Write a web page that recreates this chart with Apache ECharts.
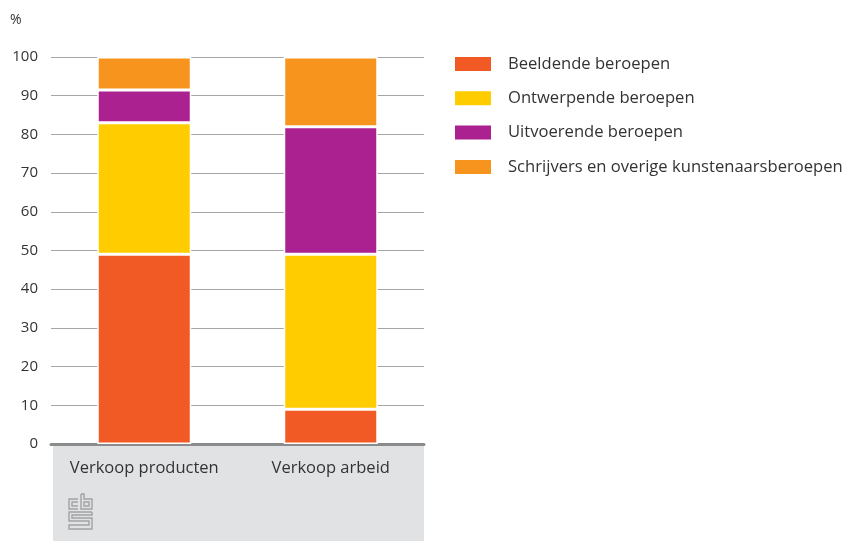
<!DOCTYPE html>
<html>
<head>
<meta charset="utf-8">
<script src="https://cdn.jsdelivr.net/npm/echarts@6/dist/echarts.min.js"></script>
<style>
  html, body { margin: 0; padding: 0; background: #fff; }
  #chart { width: 847px; height: 541px; }
</style>
</head>
<body>
<div id="chart"></div>
<script>
// Share of income (%) by type of sale, per occupational group
const categories = ['Verkoop producten', 'Verkoop arbeid'];
const seriesNames = [
  'Beeldende beroepen',
  'Ontwerpende beroepen',
  'Uitvoerende beroepen',
  'Schrijvers en overige kunstenaarsberoepen'
];
const beeldende = [49, 9];
const ontwerpende = [34, 40];
const uitvoerende = [8.5, 33];
const schrijvers = [8.5, 18];
const seriesValues = [beeldende, ontwerpende, uitvoerende, schrijvers];
const colors = ['#f15a24', '#ffcc00', '#ac2190', '#f7941d'];
const yTicks = [0, 10, 20, 30, 40, 50, 60, 70, 80, 90, 100];

const FONT = '"Open Sans", "Noto Sans", sans-serif';
const chart = echarts.init(document.getElementById('chart'), null, { renderer: 'canvas' });

// CBS logo mark drawn as simple strokes
const logoStroke = { stroke: '#a0a2a5', lineWidth: 1.4, fill: null };
const logo = [
  // c
  { type: 'polyline', shape: { points: [[78, 499], [69, 499], [69, 509], [78, 509]] }, style: logoStroke },
  { type: 'polyline', shape: { points: [[78, 502], [72, 502], [72, 506], [78, 506]] }, style: logoStroke },
  // b
  { type: 'polyline', shape: { points: [[81, 494], [81, 509], [92, 509], [92, 499], [84, 499], [84, 494], [81, 494]] }, style: logoStroke },
  { type: 'rect', shape: { x: 84, y: 502, width: 5, height: 4 }, style: logoStroke },
  // s
  { type: 'polyline', shape: { points: [[92, 512], [69, 512], [69, 521], [89, 521], [89, 525], [69, 525], [69, 529], [92, 529], [92, 518], [72, 518], [72, 515], [92, 515], [92, 512]] }, style: logoStroke }
];

chart.setOption({
  animation: false,
  color: colors,
  textStyle: { fontFamily: FONT },
  graphic: [
    { type: 'rect', z: -10, shape: { x: 53, y: 444, width: 371, height: 97 }, style: { fill: '#e1e2e4' } },
    { type: 'text', left: 10, top: 13, style: { text: '%', font: '14px ' + FONT, fill: '#333' } },
    ...logo
  ],
  legend: {
    orient: 'vertical',
    left: 448,
    top: 50,
    itemWidth: 38,
    itemHeight: 16,
    itemGap: 16.3,
    icon: 'rect',
    data: seriesNames,
    textStyle: { fontSize: 16.6, color: '#333', padding: [0, 0, 0, 11], fontFamily: FONT }
  },
  grid: { left: 51, right: 423, top: 57, bottom: 97, containLabel: false },
  xAxis: {
    type: 'category',
    data: categories,
    axisLine: { show: true, lineStyle: { color: '#8a8b8d', width: 3 } },
    axisTick: { show: false },
    axisLabel: {
      color: '#333', fontSize: 16.5, margin: 16, fontFamily: FONT,
      interval: 0, hideOverlap: false
    }
  },
  yAxis: {
    type: 'value',
    min: 0,
    max: 100,
    interval: 10,
    axisLine: { show: false },
    axisTick: { show: false },
    axisLabel: {
      color: '#333', fontSize: 15, margin: 13, fontFamily: FONT,
      formatter: v => (yTicks.includes(v) ? String(v) : '')
    },
    splitLine: { lineStyle: { color: '#a6a6a6', width: 1 } }
  },
  series: seriesNames.map((name, i) => ({
    name,
    type: 'bar',
    stack: 'total',
    barWidth: 94,
    data: seriesValues[i],
    itemStyle: { color: colors[i], borderColor: '#fff', borderWidth: 1.5 }
  }))
});
</script>
</body>
</html>
